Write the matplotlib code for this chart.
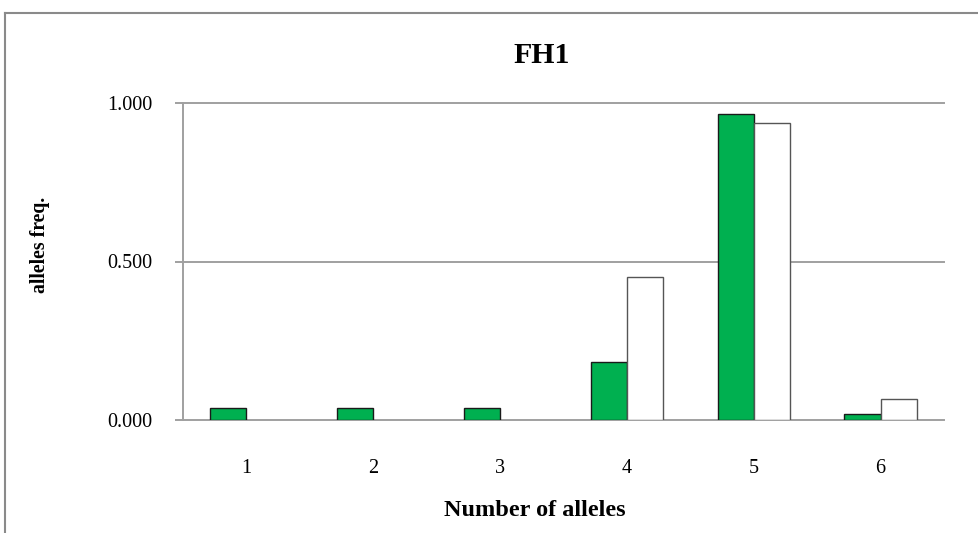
import numpy as np
import matplotlib
matplotlib.use("Agg")
import matplotlib.pyplot as plt
from matplotlib.lines import Line2D

plt.rcParams['font.family'] = ['Liberation Serif', 'DejaVu Serif']

# data
categories = ['1', '2', '3', '4', '5', '6']
green_vals = [0.037, 0.037, 0.037, 0.182, 0.964, 0.018]
white_vals = [0.0, 0.0, 0.0, 0.451, 0.936, 0.065]
yticks = [0.0, 0.5, 1.0]

W, H = 979, 533
fig = plt.figure(figsize=(W / 100, H / 100), dpi=100)
ax = fig.add_axes([183 / W, 1 - 420 / H, (944 - 183) / W, (420 - 103) / H])

x = np.arange(1, len(categories) + 1)
bw = 0.285
gbars = ax.bar(x - bw / 2, green_vals, bw, color='#00b050', edgecolor='#1a1a1a', linewidth=1.0, zorder=3)
wbars = ax.bar(x + bw / 2, white_vals, bw, color='white', edgecolor='#555555', linewidth=1.0, zorder=3)
for b in list(gbars) + list(wbars):
    if b.get_height() == 0:
        b.set_visible(False)

ax.set_xlim(0.5, 6.5)
ax.set_ylim(0, 1.0)

# gridlines (Excel style)
for yv in yticks:
    ax.axhline(yv, color='#a0a0a0', linewidth=1.4, zorder=1, clip_on=False)

for s in ['top', 'right', 'bottom']:
    ax.spines[s].set_visible(False)
ax.spines['left'].set_color('#a0a0a0')
ax.spines['left'].set_linewidth(1.4)

ax.set_yticks(yticks)
ax.set_yticklabels(['%.3f' % v for v in yticks], fontsize=14.5)
ax.tick_params(axis='y', length=6, width=1.4, color='#a0a0a0', pad=16)
ax.set_xticks(x)
ax.set_xticklabels(categories, fontsize=14.5)
ax.tick_params(axis='x', length=0, pad=28)

# titles and axis labels
fig.text(542 / W, 1 - 63 / H, 'FH1', fontsize=21.5, fontweight='bold',
         ha='center', va='baseline')
fig.text(535 / W, 1 - 516 / H, 'Number of alleles', fontsize=17.5, fontweight='bold',
         ha='center', va='baseline')
fig.text(40 / W, 1 - 245 / H, 'alleles freq.', fontsize=14.2, fontweight='bold',
         ha='center', va='center', rotation=90)

# outer chart border (cropped at right and bottom)
fig.add_artist(Line2D([5.5 / W, 1.0], [1 - 12.5 / H, 1 - 12.5 / H], color='#8a8a8a', linewidth=1.5))
fig.add_artist(Line2D([5.5 / W, 5.5 / W], [0.0, 1 - 12.5 / H], color='#8a8a8a', linewidth=1.5))

fig.savefig('out.png', dpi=100)
